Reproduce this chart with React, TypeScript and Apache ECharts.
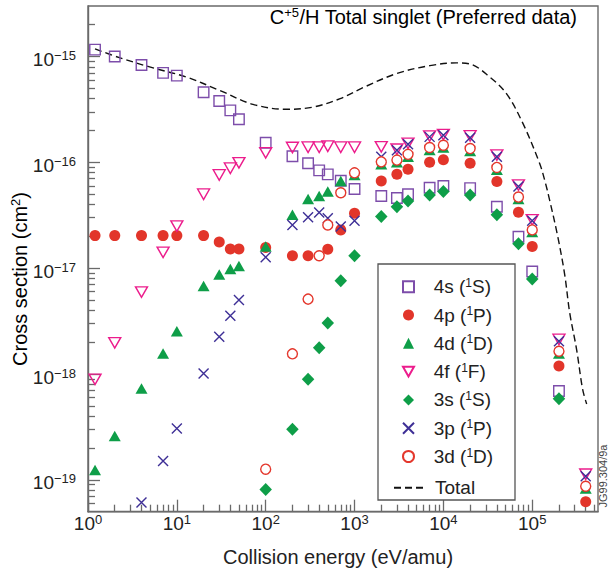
import React, { useEffect, useRef } from "react";
import * as echarts from "echarts";

const FONT = '"Liberation Sans", Arial, Helvetica, sans-serif';
const TXT = "#222";
const AX = "#6a6a6a";

// Collision energy (eV/amu) and cross section (cm^2) for each state
const E_4s = [1.2, 2, 4, 7, 10, 20, 30, 40, 50, 100, 200, 300, 400, 500, 700, 1000, 2000, 3000, 4000, 7000, 10000, 20000, 40000, 70000, 100000, 200000];
const V_4s = [1.16e-15, 1.0e-15, 8.3e-16, 7.0e-16, 6.6e-16, 4.6e-16, 3.8e-16, 3.1e-16, 2.55e-16, 1.53e-16, 1.14e-16, 9.8e-17, 8.4e-17, 7.7e-17, 6.7e-17, 5.6e-17, 4.8e-17, 4.6e-17, 5.0e-17, 5.75e-17, 5.97e-17, 5.7e-17, 3.8e-17, 1.98e-17, 9.3e-18, 6.9e-19];

const E_4p = [1.2, 2, 4, 7, 10, 20, 30, 40, 50, 100, 200, 300, 500, 700, 1000, 2000, 3000, 4000, 7000, 10000, 20000, 40000, 70000, 100000, 200000, 400000];
const V_4p = [2.03e-17, 2.03e-17, 2.03e-17, 2.03e-17, 2.03e-17, 2.03e-17, 1.77e-17, 1.52e-17, 1.52e-17, 1.57e-17, 1.31e-17, 1.31e-17, 1.51e-17, 2.3e-17, 3.3e-17, 6.65e-17, 7.7e-17, 8.6e-17, 1.0e-16, 1.06e-16, 9.8e-17, 6.6e-17, 3.37e-17, 1.6e-17, 1.19e-18, 6.2e-20];

const E_4d = [1.2, 2, 4, 7, 10, 20, 30, 40, 50, 100, 200, 300, 400, 500, 700, 1000, 2000, 3000, 4000, 7000, 10000, 20000, 40000, 70000, 100000, 200000, 400000];
const V_4d = [1.24e-19, 2.6e-19, 7.3e-19, 1.56e-18, 2.54e-18, 6.8e-18, 8.7e-18, 9.8e-18, 1.05e-17, 1.6e-17, 3.2e-17, 4.5e-17, 4.8e-17, 5.3e-17, 6.65e-17, 7.6e-17, 9.6e-17, 1.0e-16, 1.13e-16, 1.31e-16, 1.38e-16, 1.28e-16, 8.5e-17, 4.5e-17, 2.2e-17, 1.56e-18, 8.3e-20];

const E_4f = [1.2, 2, 4, 7, 10, 20, 30, 40, 50, 100, 200, 300, 400, 500, 700, 1000, 2000, 3000, 4000, 7000, 10000, 20000, 40000, 70000, 100000, 200000, 400000];
const V_4f = [8.9e-19, 1.97e-18, 5.95e-18, 1.41e-17, 2.5e-17, 5.0e-17, 7.6e-17, 8.8e-17, 9.9e-17, 1.23e-16, 1.38e-16, 1.39e-16, 1.39e-16, 1.42e-16, 1.39e-16, 1.39e-16, 1.4e-16, 1.33e-16, 1.51e-16, 1.77e-16, 1.83e-16, 1.78e-16, 1.17e-16, 6.1e-17, 2.86e-17, 2.12e-18, 1.13e-19];

const E_3s = [100, 200, 300, 400, 500, 700, 1000, 2000, 3000, 4000, 7000, 10000, 20000, 40000, 70000, 100000, 200000];
const V_3s = [8.1e-20, 3.0e-19, 8.9e-19, 1.77e-18, 3.04e-18, 7.6e-18, 1.31e-17, 3.07e-17, 3.8e-17, 4.3e-17, 4.9e-17, 5.3e-17, 4.9e-17, 3.2e-17, 1.7e-17, 7.9e-18, 5.85e-19];

const E_3p = [4, 7, 10, 20, 30, 40, 50, 100, 200, 300, 400, 500, 700, 1000, 2000, 3000, 4000, 7000, 10000, 20000, 40000, 70000, 100000, 200000, 400000];
const V_3p = [6.1e-20, 1.51e-19, 3.05e-19, 1.01e-18, 2.25e-18, 3.56e-18, 5.0e-18, 1.27e-17, 2.56e-17, 3.03e-17, 3.35e-17, 2.96e-17, 2.47e-17, 2.81e-17, 1.13e-16, 1.3e-16, 1.48e-16, 1.74e-16, 1.8e-16, 1.71e-16, 1.13e-16, 5.9e-17, 2.8e-17, 2.04e-18, 1.08e-19];

const E_3d = [100, 200, 300, 400, 500, 700, 1000, 2000, 3000, 4000, 7000, 10000, 20000, 40000, 70000, 100000, 200000, 400000];
const V_3d = [1.26e-19, 1.55e-18, 5.1e-18, 1.31e-17, 2.56e-17, 5.16e-17, 7.96e-17, 1.01e-16, 1.05e-16, 1.19e-16, 1.38e-16, 1.45e-16, 1.35e-16, 8.95e-17, 4.7e-17, 2.3e-17, 1.64e-18, 8.7e-20];

const E_total = [1.2, 2.3, 5.4, 12.8, 30, 72, 173, 344, 690, 1260, 2980, 7050, 14000, 19900, 33300, 51300, 78800, 121000, 138000, 157000, 194000, 232000, 264000, 316000, 369000, 410000];
const V_total = [1.18e-15, 9.7e-16, 7.8e-16, 6.4e-16, 4.8e-16, 3.53e-16, 3.17e-16, 3.33e-16, 4.0e-16, 5.1e-16, 6.9e-16, 8.2e-16, 8.7e-16, 8.5e-16, 6.4e-16, 4.46e-16, 2.32e-16, 9.8e-17, 6.8e-17, 4.4e-17, 1.98e-17, 8.7e-18, 3.8e-18, 1.7e-18, 7.2e-19, 5.2e-19];

// Axis extents and decade tick labels (exponents of ten)
const X_RANGE = [1, 5.5e5];
const Y_RANGE = [5e-20, 3e-15];
const X_DECADES = [0, 1, 2, 3, 4, 5];
const Y_DECADES = [-19, -18, -17, -16, -15];

// Legend entries: [shell, spin multiplicity, term letter]
const STATES = [
  ["4s", "1", "S"],
  ["4p", "1", "P"],
  ["4d", "1", "D"],
  ["4f", "1", "F"],
  ["3s", "1", "S"],
  ["3p", "1", "P"],
  ["3d", "1", "D"],
];

const lg = Math.log10;
const pairs = (E: number[], V: number[]) => E.map((e, i) => [lg(e), lg(V[i])]);
const minorTicks = (lo: number, hi: number) => {
  const out: number[] = [];
  for (let d = Math.floor(lo); d < hi; d++) {
    for (let m = 2; m <= 9; m++) {
      const v = d + lg(m);
      if (v > lo + 1e-6 && v < hi - 1e-6) out.push(v);
    }
  }
  return out;
};

const stateName = (s: string[]) => `${s[0]} (${s[1]}${s[2]})`;

const supRich = (size: number, supSize: number) => ({
  b: { fontFamily: FONT, fontSize: size, lineHeight: size + 1, verticalAlign: "bottom", color: TXT },
  s: { fontFamily: FONT, fontSize: supSize, lineHeight: supSize + 1, verticalAlign: "top", padding: [0, 0, size - supSize + 6, 0], color: TXT },
});
const axisRich = supRich(19, 13);
const titleRich = supRich(20, 13);
const legendRich = {
  p: { fontFamily: FONT, fontSize: 19, lineHeight: 20, color: TXT, padding: [0, 0, 0, 14.7] },
  q: { fontFamily: FONT, fontSize: 19, lineHeight: 20, color: TXT, padding: [0, 0, 0, 4] },
  b: { fontFamily: FONT, fontSize: 19, lineHeight: 20, color: TXT },
  s: { fontFamily: FONT, fontSize: 12, lineHeight: 12, verticalAlign: "top", color: TXT },
};

export default function App() {
  const ref = useRef<HTMLDivElement>(null);
  useEffect(() => {
    if (!ref.current) return;
    const chart = echarts.init(ref.current, null, { renderer: "svg" });
    const xMin = lg(X_RANGE[0]);
    const xMax = lg(X_RANGE[1]);
    const yMin = lg(Y_RANGE[0]);
    const yMax = lg(Y_RANGE[1]);

    const hollow = (c: string) => ({ color: "transparent", borderColor: c, borderWidth: 1.4, opacity: 1 });
    const styles: any[] = [
      { symbol: "rect", symbolSize: 10.5, itemStyle: hollow("#7D4DAA") },
      { symbol: "circle", symbolSize: 11, itemStyle: { color: "#E2352A", opacity: 1 } },
      { symbol: "triangle", symbolSize: [12, 10.5], itemStyle: { color: "#0E9E48", opacity: 1 } },
      { symbol: "path://M0,0L12,0L6,10.5Z", symbolSize: [12, 10.5], itemStyle: hollow("#EC1C8C") },
      { symbol: "diamond", symbolSize: [12.5, 13], itemStyle: { color: "#0E9E48", opacity: 1 } },
      { symbol: "path://M0,0L10,10M10,0L0,10", symbolSize: 10, itemStyle: hollow("#3E2F96") },
      { symbol: "circle", symbolSize: 10, itemStyle: { color: "#fff", borderColor: "#E4372C", borderWidth: 1.4, opacity: 1 } },
    ];
    const dataSets = [
      pairs(E_4s, V_4s),
      pairs(E_4p, V_4p),
      pairs(E_4d, V_4d),
      pairs(E_4f, V_4f),
      pairs(E_3s, V_3s),
      pairs(E_3p, V_3p),
      pairs(E_3d, V_3d),
    ];

    const series: any[] = [
      {
        name: "Total",
        type: "line",
        data: pairs(E_total, V_total),
        showSymbol: false,
        symbol: "none",
        smooth: 0.35,
        z: 1,
        lineStyle: { color: "#111", width: 1.4, type: [7, 4] },
        itemStyle: { color: "#111" },
      },
      ...STATES.map((s, i) => ({
        name: stateName(s),
        type: "scatter",
        data: dataSets[i],
        z: 2 + i,
        ...styles[i],
      })),
    ];

    chart.setOption({
      animation: false,
      grid: { left: 88, right: 10, top: 6, bottom: 61.3, show: true, borderColor: AX, borderWidth: 1.4, backgroundColor: "transparent" },
      xAxis: [
        {
          type: "value",
          min: xMin,
          max: xMax,
          position: "bottom",
          axisLine: { show: true, lineStyle: { color: AX, width: 1.4 } },
          axisTick: { show: true, inside: true, length: 12, customValues: X_DECADES, lineStyle: { color: AX, width: 1.3 } },
          axisLabel: {
            show: true,
            margin: 1,
            customValues: X_DECADES,
            formatter: (v: number) => `{b|10}{s|${Math.round(v)}}`,
            rich: axisRich,
          },
          splitLine: { show: false },
        },
        {
          type: "value",
          min: xMin,
          max: xMax,
          position: "bottom",
          axisLine: { show: false },
          axisTick: { show: true, inside: true, length: 7, customValues: minorTicks(xMin, xMax), lineStyle: { color: AX, width: 1.3 } },
          axisLabel: { show: false },
          splitLine: { show: false },
        },
      ],
      yAxis: [
        {
          type: "value",
          min: yMin,
          max: yMax,
          position: "left",
          axisLine: { show: true, lineStyle: { color: AX, width: 1.4 } },
          axisTick: { show: true, inside: true, length: 12, customValues: Y_DECADES, lineStyle: { color: AX, width: 1.3 } },
          axisLabel: {
            show: true,
            margin: 12,
            padding: [5, 0, 0, 0],
            customValues: Y_DECADES,
            formatter: (v: number) => `{b|10}{s|\u2212${Math.abs(Math.round(v))}}`,
            rich: axisRich,
          },
          splitLine: { show: false },
        },
        {
          type: "value",
          min: yMin,
          max: yMax,
          position: "left",
          axisLine: { show: false },
          axisTick: { show: true, inside: true, length: 7, customValues: minorTicks(yMin, yMax), lineStyle: { color: AX, width: 1.3 } },
          axisLabel: { show: false },
          splitLine: { show: false },
        },
      ],
      legend: [
        {
          orient: "vertical",
          left: 402,
          top: 276.7,
          padding: 0,
          itemWidth: 11,
          itemHeight: 11,
          itemGap: 8.8,
          selectedMode: false,
          z: 5,
          data: STATES.map(stateName),
          formatter: (name: string) => {
            const s = STATES.find((st) => stateName(st) === name) || ["", "", ""];
            return `{p|${s[0]} (}{s|${s[1]}}{b|${s[2]})}`;
          },
          textStyle: { fontFamily: FONT, fontSize: 19, color: TXT, rich: legendRich },
        },
        {
          orient: "vertical",
          left: 393,
          top: 478.3,
          padding: 0,
          itemWidth: 32,
          itemHeight: 12,
          selectedMode: false,
          z: 5,
          data: [{ name: "Total", itemStyle: { color: "transparent", borderColor: "transparent", borderWidth: 0 } }],
          formatter: (name: string) => `{q|${name}}`,
          textStyle: { fontFamily: FONT, fontSize: 19, color: TXT, rich: legendRich },
        },
      ],
      graphic: [
        {
          type: "rect",
          z: 3,
          shape: { x: 378, y: 264, width: 137, height: 236 },
          style: { fill: "#fff", stroke: "#555", lineWidth: 1.3 },
        },
        {
          type: "text",
          x: 577,
          y: 6,
          style: {
            text: "{b|C}{s|+5}{b|/H Total singlet (Preferred data)}",
            align: "right",
            verticalAlign: "top",
            rich: titleRich,
          },
        },
        {
          type: "text",
          x: 338,
          y: 557,
          style: {
            text: "Collision energy (eV/amu)",
            fontFamily: FONT,
            fontSize: 20,
            fill: TXT,
            align: "center",
            verticalAlign: "middle",
          },
        },
        {
          type: "text",
          x: 19,
          y: 279,
          rotation: Math.PI / 2,
          style: {
            text: "{b|Cross section (cm}{s|2}{b|)}",
            align: "center",
            verticalAlign: "middle",
            rich: titleRich,
          },
        },
        {
          type: "text",
          x: 602.5,
          y: 476,
          rotation: Math.PI / 2,
          style: {
            text: "JG99.304/9a",
            fontFamily: FONT,
            fontSize: 11,
            lineHeight: 10,
            fill: "#444",
            align: "center",
            verticalAlign: "middle",
          },
        },
      ],
      series,
    });
    return () => chart.dispose();
  }, []);
  return <div ref={ref} style={{ position: "absolute", left: 0, top: 0, width: 608, height: 573, background: "#fff" }} />;
}
